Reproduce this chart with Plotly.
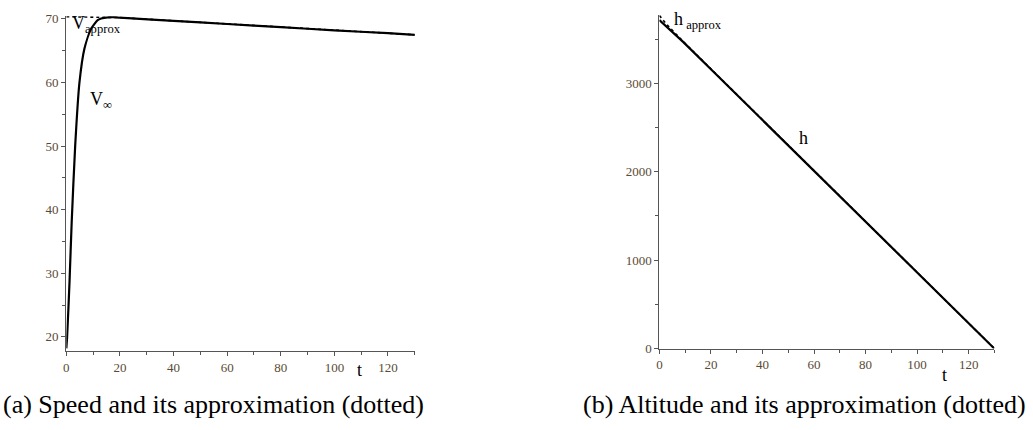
import plotly.graph_objects as go

# ---- data ----
t_speed = [0, 0.3, 1.2, 2.0, 3.3, 4.9, 6.75, 9.2, 11.7, 13.0, 15.4, 17.5, 20, 40, 60, 80, 100, 120, 130]
v_speed = [18.2, 20.0, 28.7, 38.0, 50.0, 60.0, 65.3, 68.4, 69.8, 70.05, 70.25, 70.28, 70.2, 69.7, 69.2, 68.7, 68.2, 67.75, 67.5]

t_vapprox = [0, 20, 40, 60, 80, 100, 120, 130]
v_vapprox = [70.35, 70.2, 69.7, 69.2, 68.7, 68.2, 67.75, 67.5]

t_alt = [0, 3, 6, 9.3, 20, 40, 60, 80, 100, 120, 130]
h_alt = [3715, 3635, 3550, 3465, 3158, 2584, 2010, 1436, 862, 287, 0]

t_happrox = [0, 3, 9.3, 20, 40, 60, 80, 100, 120, 130]
h_happrox = [3765, 3660, 3470, 3160, 2586, 2012, 1437, 862, 287, 0]

speed_yticks = [20, 30, 40, 50, 60, 70]
alt_yticks = [0, 1000, 2000, 3000]
t_ticks = [0, 20, 40, 60, 80, 100, 120]

caption_a = "(a) Speed and its approximation (dotted)"
caption_b = "(b) Altitude and its approximation (dotted)"

# ---- figure ----
W, H = 1033, 430
serif = "Liberation Serif"
tick_color = "#5a4a34"
axis_color = "#555555"

fig = go.Figure()

fig.add_trace(go.Scatter(x=t_vapprox, y=v_vapprox, mode="lines",
                         line=dict(color="black", width=1.6, dash="dot"),
                         xaxis="x", yaxis="y", showlegend=False))
fig.add_trace(go.Scatter(x=t_speed, y=v_speed, mode="lines",
                         line=dict(color="black", width=2.2, shape="spline", smoothing=0.6),
                         xaxis="x", yaxis="y", showlegend=False))

fig.add_trace(go.Scatter(x=t_happrox, y=h_happrox, mode="lines",
                         line=dict(color="black", width=1.6, dash="dot"),
                         xaxis="x2", yaxis="y2", showlegend=False))
fig.add_trace(go.Scatter(x=t_alt, y=h_alt, mode="lines",
                         line=dict(color="black", width=2.2),
                         xaxis="x2", yaxis="y2", showlegend=False))

common_axis = dict(showgrid=False, zeroline=False, showline=True, linecolor=axis_color,
                   linewidth=1.2, ticks="outside", ticklen=4, tickcolor=axis_color,
                   tickwidth=1, tickfont=dict(family=serif, size=13, color=tick_color))

def minor(d):
    return dict(dtick=d, tick0=0, ticklen=3, ticks="outside", tickcolor=axis_color)

fig.update_layout(
    width=W, height=H,
    margin=dict(l=0, r=0, t=0, b=0),
    paper_bgcolor="white", plot_bgcolor="white",
    xaxis=dict(domain=[63.5 / W, 413 / W], range=[0, 130], anchor="y",
               tickvals=t_ticks, minor=minor(10), **common_axis),
    yaxis=dict(domain=[1 - 356.7 / H, 1 - 11.7 / H], range=[17.8, 70.4], anchor="x",
               tickvals=speed_yticks, minor=minor(5), **common_axis),
    xaxis2=dict(domain=[658.3 / W, 994.3 / W], range=[0, 130], anchor="y2",
                tickvals=t_ticks, minor=minor(10), **common_axis),
    yaxis2=dict(domain=[1 - 354.3 / H, 1 - 10 / H], range=[0, 3775], anchor="x2",
                tickvals=alt_yticks, minor=minor(500), **common_axis),
)

label_font = dict(family=serif, size=18, color="black")
anns = [
    dict(x=1.2, y=70.4, xref="x", yref="y", text="V<sub>approx</sub>", xanchor="left", yanchor="top", yshift=5),
    dict(x=8.2, y=59.3, xref="x", yref="y", text="V<sub>∞</sub>", xanchor="left", yanchor="top"),
    dict(x=109.5, y=17.8, xref="x", yref="y", text="t", xanchor="center", yanchor="top", yshift=-7),
    dict(x=5.0, y=3775, xref="x2", yref="y2", text="h<sub> approx</sub>", xanchor="left", yanchor="top", yshift=8),
    dict(x=53.5, y=2520, xref="x2", yref="y2", text="h", xanchor="left", yanchor="top"),
    dict(x=110.5, y=0, xref="x2", yref="y2", text="t", xanchor="center", yanchor="top", yshift=-14),
]
for a in anns:
    a.update(showarrow=False, font=label_font)
    fig.add_annotation(**a)

fig.add_annotation(x=211 / W, y=1 - 412 / H, xref="paper", yref="paper", text=caption_a,
                   showarrow=False, xanchor="center", yanchor="middle",
                   font=dict(family=serif, size=26, color="black"))
fig.add_annotation(x=804 / W, y=1 - 412 / H, xref="paper", yref="paper", text=caption_b,
                   showarrow=False, xanchor="center", yanchor="middle",
                   font=dict(family=serif, size=26, color="black"))

fig.write_html("out.html")
